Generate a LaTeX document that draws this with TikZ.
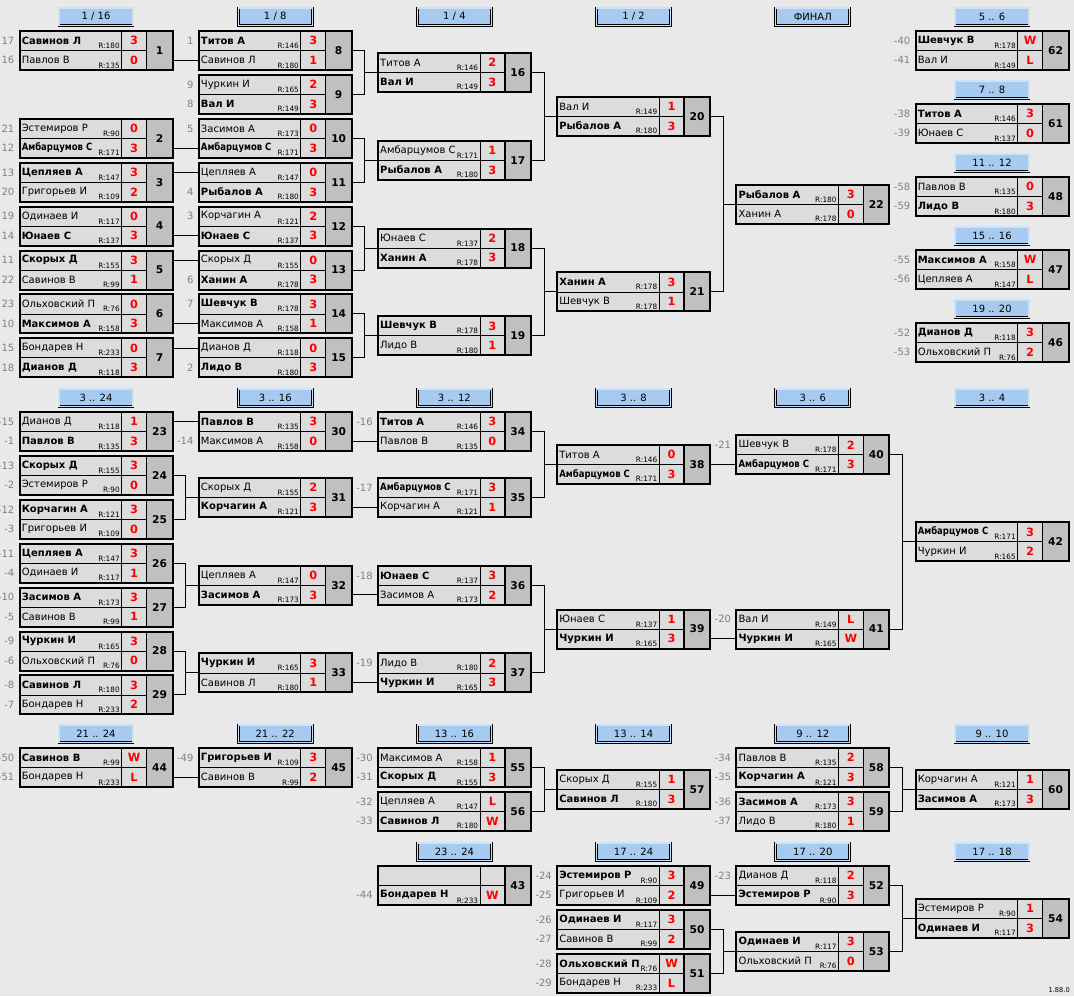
\documentclass[tikz,border=0pt]{standalone}
\usepackage{fontspec}
\setmainfont{DejaVu Sans}
\usetikzlibrary{calc,positioning}

\definecolor{pagebg}{RGB}{233,233,233}
\definecolor{rowgray}{RGB}{220,220,220}
\definecolor{numgray}{RGB}{192,192,192}
\definecolor{headblue}{RGB}{166,202,240}
\definecolor{seedgray}{RGB}{128,128,128}

\tikzset{
  matchbox/.style={fill=rowgray, minimum width=114.75pt, minimum height=29.25pt,
    anchor=north west, inner sep=0pt, outer sep=0pt},
  numcell/.style={fill=numgray, minimum width=19.5pt, minimum height=29.25pt,
    anchor=north east, inner sep=0pt, outer sep=0pt, font=\bfseries\fontsize{8}{9}\selectfont},
  plname/.style={anchor=west, inner sep=0pt, font=\fontsize{7.5}{9}\selectfont},
  rating/.style={anchor=base east, inner sep=0.4pt, fill=rowgray, font=\fontsize{5.5}{6}\selectfont},
  score/.style={inner sep=0pt, text=red, font=\bfseries\fontsize{8.5}{10}\selectfont},
  seed/.style={anchor=east, inner sep=0pt, text=seedgray, font=\fontsize{7.5}{9}\selectfont},
  stage/.style={draw, line width=0.5pt, double=headblue!55!white, double distance=1pt,
    fill=headblue, minimum width=55.5pt, minimum height=13pt, inner sep=0pt,
    font=\fontsize{7.5}{9}\selectfont},
  wire/.style={line width=0.75pt},
  divider/.style={line width=0.6pt}
}

\newcommand{\win}[1]{{\bfseries #1}}
\newcommand{\narrow}[1]{\scalebox{0.85}[1]{#1}}

% one match: id, column, top, number, then two players
\newcommand{\game}[4]{%
  \node[matchbox] (#1) at ({19.5+179.2*#2},#3) {};
  \node[numcell] (#1n) at (#1.north east) {#4};
  \draw[divider] (#1.west) -- (#1n.west);
  \draw[divider] ($(#1.north west)+(102,0)$) -- ($(#1.south west)+(102,0)$);
  \draw[line width=1.1pt] (#1n.north west) -- (#1n.south west);
  \draw[line width=1.5pt] (#1.north west) rectangle (#1.south east);
  \gameplayers{#1}}
\newcommand{\gameplayers}[7]{%
  \node[plname] (#1a) at ($(#1.north west)+(2,9.75)$) {#2};
  \if\relax\detokenize{#3}\relax\else
    \node[rating] (#1ra) at ($(#1.north west)+(101,17.5)$) {R:#3};\fi
  \node[score] (#1sa) at ($(#1.north west)+(114.5,9.75)$) {#4};
  \node[plname] (#1b) at ($(#1.north west)+(2,29.25)$) {#5};
  \node[rating] (#1rb) at ($(#1.north west)+(101,37)$) {R:#6};
  \node[score] (#1sb) at ($(#1.north west)+(114.5,29.25)$) {#7};}

% seed / source numbers left of a match
\newcommand{\seeds}[3]{%
  \if\relax\detokenize{#2}\relax\else
    \node[seed] (#1pa) at ($(#1.north west)+(-5,9.75)$) {#2};\fi
  \if\relax\detokenize{#3}\relax\else
    \node[seed] (#1pb) at ($(#1.north west)+(-5,29.25)$) {#3};\fi}

% round caption over a column
\newcommand{\stagehead}[4]{%
  \node[stage] (#1) at ({96+179.2*#2},#3+9.5) {#4};}

% winner goes straight on to a row of the next match
\newcommand{\feed}[3]{%
  \draw[wire] (#1.east |- #2#3) -- (#2.west |- #2#3);}

% two matches meet in the next one
\newcommand{\bracketto}[3]{%
  \coordinate (#3j) at ($(#1.east)!.5!(#3.west)$);
  \draw[wire] (#1.east) -| (#3j |- #2.east) -- (#2.east);
  \draw[wire] (#3j |- #3.west) -- (#3.west);}

\begin{document}
\begin{tikzpicture}[x=0.75pt,y=-0.75pt]
\path[use as bounding box, fill=pagebg] (0,0) rectangle (1074,996);

% captions
\stagehead{h1}{0}{7}{1 / 16}
\stagehead{h2}{1}{7}{1 / 8}
\stagehead{h3}{2}{7}{1 / 4}
\stagehead{h4}{3}{7}{1 / 2}
\stagehead{h5}{4}{7}{ФИНАЛ}
\stagehead{h6}{5}{7}{5 .. 6}
\stagehead{h7}{5}{80}{7 .. 8}
\stagehead{h8}{5}{153}{11 .. 12}
\stagehead{h9}{5}{226}{15 .. 16}
\stagehead{h10}{5}{299}{19 .. 20}
\stagehead{h11}{0}{388}{3 .. 24}
\stagehead{h12}{1}{388}{3 .. 16}
\stagehead{h13}{2}{388}{3 .. 12}
\stagehead{h14}{3}{388}{3 .. 8}
\stagehead{h15}{4}{388}{3 .. 6}
\stagehead{h16}{5}{388}{3 .. 4}
\stagehead{h17}{0}{724}{21 .. 24}
\stagehead{h18}{1}{724}{21 .. 22}
\stagehead{h19}{2}{724}{13 .. 16}
\stagehead{h20}{3}{724}{13 .. 14}
\stagehead{h21}{4}{724}{9 .. 12}
\stagehead{h22}{5}{724}{9 .. 10}
\stagehead{h23}{2}{842}{23 .. 24}
\stagehead{h24}{3}{842}{17 .. 24}
\stagehead{h25}{4}{842}{17 .. 20}
\stagehead{h26}{5}{842}{17 .. 18}

% main draw
\game{m1}{0}{31}{1}{\win{Савинов Л}}{180}{3}{Павлов В}{135}{0}
\game{m2}{0}{118.8}{2}{Эстемиров Р}{90}{0}{\win{\narrow{Амбарцумов С}}}{171}{3}
\game{m3}{0}{162.7}{3}{\win{Цепляев А}}{147}{3}{Григорьев И}{109}{2}
\game{m4}{0}{206.6}{4}{Одинаев И}{117}{0}{\win{Юнаев С}}{137}{3}
\game{m5}{0}{250.5}{5}{\win{Скорых Д}}{155}{3}{Савинов В}{99}{1}
\game{m6}{0}{294.4}{6}{Ольховский П}{76}{0}{\win{Максимов А}}{158}{3}
\game{m7}{0}{338.3}{7}{Бондарев Н}{233}{0}{\win{Дианов Д}}{118}{3}
\game{m8}{1}{31}{8}{\win{Титов А}}{146}{3}{Савинов Л}{180}{1}
\game{m9}{1}{74.9}{9}{Чуркин И}{165}{2}{\win{Вал И}}{149}{3}
\game{m10}{1}{118.8}{10}{Засимов А}{173}{0}{\win{\narrow{Амбарцумов С}}}{171}{3}
\game{m11}{1}{162.7}{11}{Цепляев А}{147}{0}{\win{Рыбалов А}}{180}{3}
\game{m12}{1}{206.6}{12}{Корчагин А}{121}{2}{\win{Юнаев С}}{137}{3}
\game{m13}{1}{250.5}{13}{Скорых Д}{155}{0}{\win{Ханин А}}{178}{3}
\game{m14}{1}{294.4}{14}{\win{Шевчук В}}{178}{3}{Максимов А}{158}{1}
\game{m15}{1}{338.3}{15}{Дианов Д}{118}{0}{\win{Лидо В}}{180}{3}
\game{m16}{2}{52.95}{16}{Титов А}{146}{2}{\win{Вал И}}{149}{3}
\game{m17}{2}{140.75}{17}{Амбарцумов С}{171}{1}{\win{Рыбалов А}}{180}{3}
\game{m18}{2}{228.55}{18}{Юнаев С}{137}{2}{\win{Ханин А}}{178}{3}
\game{m19}{2}{316.35}{19}{\win{Шевчук В}}{178}{3}{Лидо В}{180}{1}
\game{m20}{3}{96.85}{20}{Вал И}{149}{1}{\win{Рыбалов А}}{180}{3}
\game{m21}{3}{272.45}{21}{\win{Ханин А}}{178}{3}{Шевчук В}{178}{1}
\game{m22}{4}{184.65}{22}{\win{Рыбалов А}}{180}{3}{Ханин А}{178}{0}
\game{m62}{5}{31}{62}{\win{Шевчук В}}{178}{W}{Вал И}{149}{L}
\game{m61}{5}{104}{61}{\win{Титов А}}{146}{3}{Юнаев С}{137}{0}
\game{m48}{5}{177}{48}{Павлов В}{135}{0}{\win{Лидо В}}{180}{3}
\game{m47}{5}{250}{47}{\win{Максимов А}}{158}{W}{Цепляев А}{147}{L}
\game{m46}{5}{323}{46}{\win{Дианов Д}}{118}{3}{Ольховский П}{76}{2}

% places 3 .. 24
\game{m23}{0}{412}{23}{Дианов Д}{118}{1}{\win{Павлов В}}{135}{3}
\game{m24}{0}{455.9}{24}{\win{Скорых Д}}{155}{3}{Эстемиров Р}{90}{0}
\game{m25}{0}{499.8}{25}{\win{Корчагин А}}{121}{3}{Григорьев И}{109}{0}
\game{m26}{0}{543.7}{26}{\win{Цепляев А}}{147}{3}{Одинаев И}{117}{1}
\game{m27}{0}{587.6}{27}{\win{Засимов А}}{173}{3}{Савинов В}{99}{1}
\game{m28}{0}{631.5}{28}{\win{Чуркин И}}{165}{3}{Ольховский П}{76}{0}
\game{m29}{0}{675.4}{29}{\win{Савинов Л}}{180}{3}{Бондарев Н}{233}{2}
\game{m30}{1}{412}{30}{\win{Павлов В}}{135}{3}{Максимов А}{158}{0}
\game{m31}{1}{477.85}{31}{Скорых Д}{155}{2}{\win{Корчагин А}}{121}{3}
\game{m32}{1}{565.65}{32}{Цепляев А}{147}{0}{\win{Засимов А}}{173}{3}
\game{m33}{1}{653.45}{33}{\win{Чуркин И}}{165}{3}{Савинов Л}{180}{1}
\game{m34}{2}{412}{34}{\win{Титов А}}{146}{3}{Павлов В}{135}{0}
\game{m35}{2}{477.85}{35}{\win{\narrow{Амбарцумов С}}}{171}{3}{Корчагин А}{121}{1}
\game{m36}{2}{565.65}{36}{\win{Юнаев С}}{137}{3}{Засимов А}{173}{2}
\game{m37}{2}{653.45}{37}{Лидо В}{180}{2}{\win{Чуркин И}}{165}{3}
\game{m38}{3}{444.9}{38}{Титов А}{146}{0}{\win{\narrow{Амбарцумов С}}}{171}{3}
\game{m39}{3}{609.55}{39}{Юнаев С}{137}{1}{\win{Чуркин И}}{165}{3}
\game{m40}{4}{435.15}{40}{Шевчук В}{178}{2}{\win{\narrow{Амбарцумов С}}}{171}{3}
\game{m41}{4}{609.55}{41}{Вал И}{149}{L}{\win{Чуркин И}}{165}{W}
\game{m42}{5}{522.35}{42}{\win{\narrow{Амбарцумов С}}}{171}{3}{Чуркин И}{165}{2}

% lower places
\game{m44}{0}{748}{44}{\win{Савинов В}}{99}{W}{Бондарев Н}{233}{L}
\game{m45}{1}{748}{45}{\win{Григорьев И}}{109}{3}{Савинов В}{99}{2}
\game{m55}{2}{748}{55}{Максимов А}{158}{1}{\win{Скорых Д}}{155}{3}
\game{m56}{2}{791.9}{56}{Цепляев А}{147}{L}{\win{Савинов Л}}{180}{W}
\game{m43}{2}{866}{43}{}{}{}{\win{Бондарев Н}}{233}{W}
\game{m57}{3}{769.95}{57}{Скорых Д}{155}{1}{\win{Савинов Л}}{180}{3}
\game{m49}{3}{866}{49}{\win{Эстемиров Р}}{90}{3}{Григорьев И}{109}{2}
\game{m50}{3}{909.9}{50}{\win{Одинаев И}}{117}{3}{Савинов В}{99}{2}
\game{m51}{3}{953.8}{51}{\win{Ольховский П}}{76}{W}{Бондарев Н}{233}{L}
\game{m58}{4}{748}{58}{Павлов В}{135}{2}{\win{Корчагин А}}{121}{3}
\game{m59}{4}{791.9}{59}{\win{Засимов А}}{173}{3}{Лидо В}{180}{1}
\game{m52}{4}{866}{52}{Дианов Д}{118}{2}{\win{Эстемиров Р}}{90}{3}
\game{m53}{4}{931.85}{53}{\win{Одинаев И}}{117}{3}{Ольховский П}{76}{0}
\game{m60}{5}{769.95}{60}{Корчагин А}{121}{1}{\win{Засимов А}}{173}{3}
\game{m54}{5}{898.9}{54}{Эстемиров Р}{90}{1}{\win{Одинаев И}}{117}{3}

% where the players come from
\seeds{m1}{17}{16}   \seeds{m2}{21}{12}   \seeds{m3}{13}{20}
\seeds{m4}{19}{14}   \seeds{m5}{11}{22}   \seeds{m6}{23}{10}
\seeds{m7}{15}{18}
\seeds{m8}{1}{}      \seeds{m9}{9}{8}     \seeds{m10}{5}{}
\seeds{m11}{}{4}     \seeds{m12}{3}{}     \seeds{m13}{}{6}
\seeds{m14}{7}{}     \seeds{m15}{}{2}
\seeds{m62}{-40}{-41} \seeds{m61}{-38}{-39} \seeds{m48}{-58}{-59}
\seeds{m47}{-55}{-56} \seeds{m46}{-52}{-53}
\seeds{m23}{-15}{-1} \seeds{m24}{-13}{-2} \seeds{m25}{-12}{-3}
\seeds{m26}{-11}{-4} \seeds{m27}{-10}{-5} \seeds{m28}{-9}{-6}
\seeds{m29}{-8}{-7}  \seeds{m30}{}{-14}
\seeds{m34}{-16}{}   \seeds{m35}{-17}{}   \seeds{m36}{-18}{}
\seeds{m37}{-19}{}   \seeds{m40}{-21}{}   \seeds{m41}{-20}{}
\seeds{m44}{-50}{-51} \seeds{m45}{-49}{}
\seeds{m55}{-30}{-31} \seeds{m56}{-32}{-33} \seeds{m43}{}{-44}
\seeds{m49}{-24}{-25} \seeds{m50}{-26}{-27} \seeds{m51}{-28}{-29}
\seeds{m58}{-34}{-35} \seeds{m59}{-36}{-37} \seeds{m52}{-23}{}

% connectors
\feed{m1}{m8}{b}  \feed{m2}{m10}{b} \feed{m3}{m11}{a} \feed{m4}{m12}{b}
\feed{m5}{m13}{a} \feed{m6}{m14}{b} \feed{m7}{m15}{a}
\bracketto{m8}{m9}{m16}   \bracketto{m10}{m11}{m17}
\bracketto{m12}{m13}{m18} \bracketto{m14}{m15}{m19}
\bracketto{m16}{m17}{m20} \bracketto{m18}{m19}{m21}
\bracketto{m20}{m21}{m22}
\feed{m23}{m30}{a}
\bracketto{m24}{m25}{m31} \bracketto{m26}{m27}{m32} \bracketto{m28}{m29}{m33}
\feed{m30}{m34}{b} \feed{m31}{m35}{b} \feed{m32}{m36}{b} \feed{m33}{m37}{b}
\bracketto{m34}{m35}{m38} \bracketto{m36}{m37}{m39}
\feed{m38}{m40}{b} \feed{m39}{m41}{b}
\bracketto{m40}{m41}{m42}
\feed{m44}{m45}{b}
\bracketto{m55}{m56}{m57} \bracketto{m58}{m59}{m60}
\feed{m49}{m52}{b}
\bracketto{m50}{m51}{m53} \bracketto{m52}{m53}{m54}

\node[anchor=south east, inner sep=0pt, font=\fontsize{5}{6}\selectfont] (version) at (1070,993) {1.88.0};
\end{tikzpicture}
\end{document}
